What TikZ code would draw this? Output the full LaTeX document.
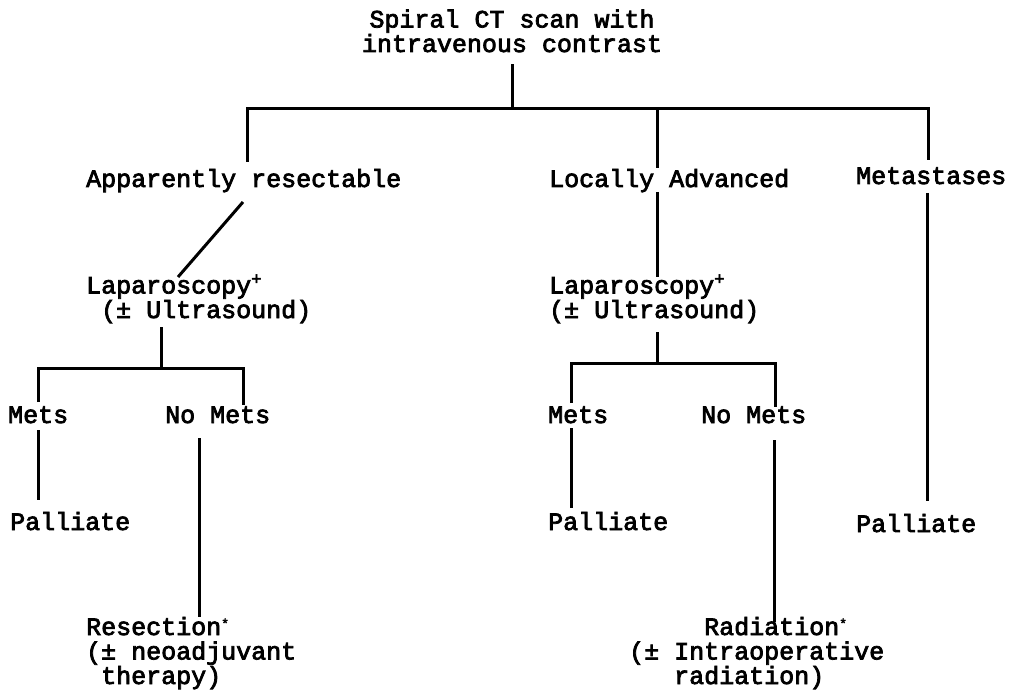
\documentclass[tikz,border=0pt]{standalone}
\usepackage{fontspec}
\newfontfamily\typer{Liberation Mono}[FakeBold=3]
\newcommand{\plusmark}{\textsuperscript{+}}
\newcommand{\starmark}{\raisebox{7pt}{\fontsize{13}{13}\selectfont *}}

\begin{document}
\begin{tikzpicture}[x=1pt,y=-1pt,
  lbl/.style={inner sep=0pt,anchor=base west,align=left,
    font=\typer\fontsize{25}{24.5}\selectfont},
  conn/.style={line width=3pt}]
\useasboundingbox (0,0) rectangle (1013,690);

% labels (multi-line ones sit on their last line)
\node[lbl,anchor=base,align=center] (ct) at (512,52) {Spiral CT scan with\\intravenous contrast};

\node[lbl] (apr) at (86,187) {Apparently resectable};
\node[lbl] (loc) at (549,187) {Locally Advanced};
\node[lbl] (met) at (856,184) {Metastases};

\node[lbl] (lapA) at (86,318) {Laparoscopy\plusmark\\\phantom{0}(± Ultrasound)};
\node[lbl] (lapB) at (549,318) {Laparoscopy\plusmark\\(± Ultrasound)};

\node[lbl] (metsA) at (8,423) {Mets};
\node[lbl] (noA) at (165,423) {No Mets};
\node[lbl] (metsB) at (548,423) {Mets};
\node[lbl] (noB) at (701,423) {No Mets};

\node[lbl] (palA) at (10,530) {Palliate};
\node[lbl] (palB) at (548,530) {Palliate};
\node[lbl] (palC) at (856,532) {Palliate};

\node[lbl] (resA) at (86,684) {Resection\starmark\\(± neoadjuvant\\\phantom{0}therapy)};
\node[lbl] (radB) at (629,684) {\phantom{00000}Radiation\starmark\\(± Intraoperative\\\phantom{000}radiation)};

% junctions
\coordinate (jT) at (512,109);
\coordinate (jA) at (161,368);
\coordinate (jB) at (657,363);
\coordinate (locTop) at ([shift={(108,-19)}]loc.base west);

% top level
\draw[conn] ([shift={(0,12)}]ct.south) -- (jT);
\draw[conn] ([shift={(161,-25)}]apr.base west) |- (jT) -| ([shift={(72,-24)}]met.base west);
\draw[conn] (locTop) -- (locTop |- jT);

% second level
\draw[conn] ([shift={(157,15)}]apr.base west) -- ([shift={(92,-41)}]lapA.base west);
\draw[conn] ([shift={(108,5)}]loc.base west) -- ([shift={(108,-41)}]lapB.base west);
\draw[conn] ([shift={(71,9)}]met.base west) -- ([shift={(71,-31)}]palC.base west);

% left branch
\draw[conn] ([shift={(75,9)}]lapA.base west) -- (jA);
\draw[conn] ([shift={(30,-21)}]metsA.base west) |- (jA) -| ([shift={(78,-18)}]noA.base west);
\draw[conn] ([shift={(30,7)}]metsA.base west) -- ([shift={(28,-30)}]palA.base west);
\draw[conn] ([shift={(34,15)}]noA.base west) -- ([shift={(113,-67)}]resA.base west);

% middle branch
\draw[conn] ([shift={(108,14)}]lapB.base west) -- (jB);
\draw[conn] ([shift={(23,-20)}]metsB.base west) |- (jB) -| ([shift={(74,-16)}]noB.base west);
\draw[conn] ([shift={(23,5)}]metsB.base west) -- ([shift={(23,-22)}]palB.base west);
\draw[conn] ([shift={(73,17)}]noB.base west) -- ([shift={(145,-62)}]radB.base west);

\end{tikzpicture}
\end{document}
